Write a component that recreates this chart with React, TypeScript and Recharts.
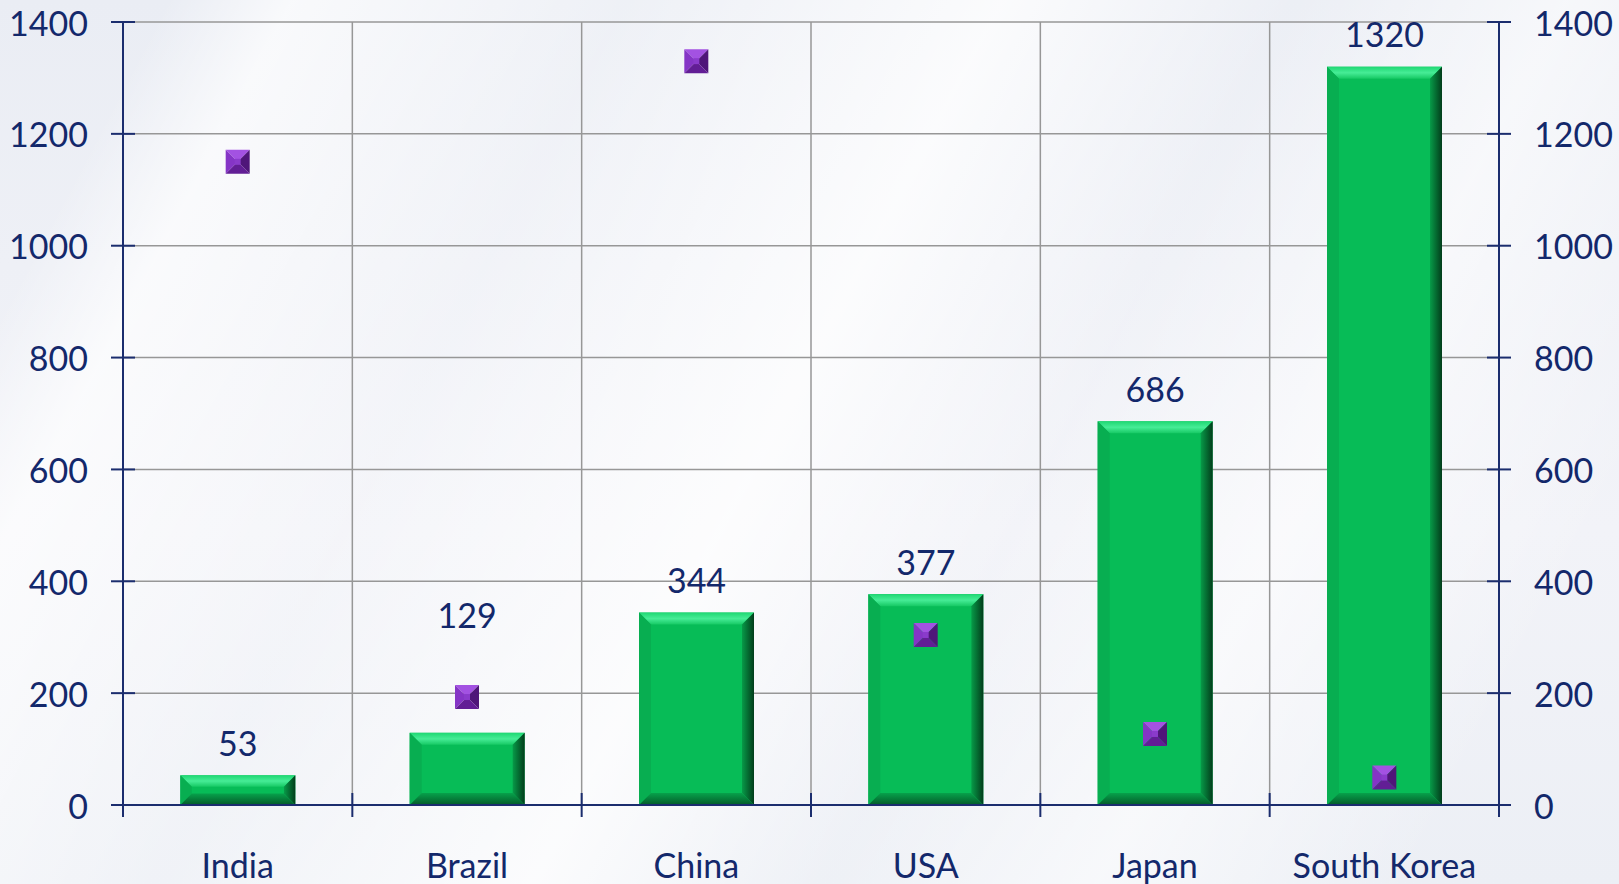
import { ComposedChart, Bar, Scatter, XAxis, YAxis, CartesianGrid, LabelList } from "recharts";

const countries = ["India", "Brazil", "China", "USA", "Japan", "South Korea"];
const barValues = [53, 129, 344, 377, 686, 1320];
const markerValues = [1150, 193, 1330, 304, 127, 49];
const axisTicks = [0, 200, 400, 600, 800, 1000, 1200, 1400];

const data = countries.map((name, i) => ({ name, bar: barValues[i], marker: markerValues[i] }));

const W = 1619;
const H = 884;
const LEFT_W = 123;
const RIGHT_W = 120;
const TOP = 22;
const BOTTOM_H = 79;
const PLOT_W = W - LEFT_W - RIGHT_W;
const BAND = PLOT_W / countries.length;

const INK = "#13286B";
const AXIS = "#1B2D6E";
const GRID = "#979797";
const FONT = "Lato, 'Noto Sans', sans-serif";
const FS = 34;

// the Brazil label was moved up in the original, clear of its marker
const labelLift: Record<string, number> = { Brazil: 85 };

function BevelBar(props: any) {
  const { x, y, width: w, height: h } = props;
  if (!h || h <= 0) return null;
  const b = Math.min(12, h / 2.6);
  return (
    <g>
      <rect x={x} y={y} width={w} height={h} fill="#07BC57" />
      <polygon points={`${x},${y} ${x + w},${y} ${x + w - b},${y + b} ${x + b},${y + b}`} fill="url(#barTop)" />
      <polygon points={`${x},${y} ${x + b},${y + b} ${x + b},${y + h - b} ${x},${y + h}`} fill="#08AE51" />
      <polygon points={`${x + w},${y} ${x + w},${y + h} ${x + w - b},${y + h - b} ${x + w - b},${y + b}`} fill="url(#barRight)" />
      <polygon points={`${x},${y + h} ${x + w},${y + h} ${x + w - b},${y + h - b} ${x + b},${y + h - b}`} fill="url(#barBottom)" />
    </g>
  );
}

function Pyramid(props: any) {
  const { cx, cy } = props;
  const s = 12;
  const L = cx - s, R = cx + s, T = cy - s, B = cy + s;
  return (
    <g>
      <polygon points={`${L},${T} ${R},${T} ${cx},${cy}`} fill="#A352E2" />
      <polygon points={`${L},${T} ${L},${B} ${cx},${cy}`} fill="#8535C6" />
      <polygon points={`${R},${T} ${R},${B} ${cx},${cy}`} fill="#4F1679" />
      <polygon points={`${L},${B} ${R},${B} ${cx},${cy}`} fill="#621E95" />
      <rect x={cx - 3} y={cy - 3} width={6} height={6} fill="#8A3BCB" />
    </g>
  );
}

function BarLabel(props: any) {
  const { x, y, width, value } = props;
  const i = props.index ?? barValues.indexOf(Number(value));
  const lift = labelLift[countries[i]] ?? 0;
  return (
    <text x={x + width / 2} y={y - 33 - lift} textAnchor="middle" dominantBaseline="central" fill={INK} fontSize={FS} fontFamily={FONT}>
      {value}
    </text>
  );
}

function CountryTick(props: any) {
  const { x, y, payload } = props;
  const i = countries.indexOf(payload.value);
  const left = x - BAND / 2;
  return (
    <g>
      <line x1={left} x2={left} y1={y - 12} y2={y + 12} stroke={AXIS} strokeWidth={2} />
      {i === countries.length - 1 && (
        <line x1={x + BAND / 2} x2={x + BAND / 2} y1={y - 12} y2={y + 12} stroke={AXIS} strokeWidth={2} />
      )}
      <text x={x} y={y + 59} textAnchor="middle" dominantBaseline="central" fill={INK} fontSize={FS} fontFamily={FONT}>
        {payload.value}
      </text>
    </g>
  );
}

function LeftTick(props: any) {
  const { x, y, payload } = props;
  return (
    <g>
      <line x1={x - 12} x2={x + 12} y1={y} y2={y} stroke={AXIS} strokeWidth={2} />
      <text x={x - 35} y={y} textAnchor="end" dominantBaseline="central" fill={INK} fontSize={FS} fontFamily={FONT}>
        {payload.value}
      </text>
    </g>
  );
}

function RightTick(props: any) {
  const { x, y, payload } = props;
  return (
    <g>
      <line x1={x - 12} x2={x + 12} y1={y} y2={y} stroke={AXIS} strokeWidth={2} />
      <text x={x + 35} y={y} textAnchor="start" dominantBaseline="central" fill={INK} fontSize={FS} fontFamily={FONT}>
        {payload.value}
      </text>
    </g>
  );
}

export default function App() {
  return (
    <div
      style={{
        position: "absolute",
        left: 0,
        top: 0,
        width: W,
        height: H,
        overflow: "hidden",
        background:
          "linear-gradient(118deg, rgba(255,255,255,0) 0%, rgba(255,255,255,0) 8%, rgba(255,255,255,0.7) 14%, rgba(255,255,255,0.2) 30%, rgba(255,255,255,0.8) 48%, rgba(255,255,255,0.1) 62%, rgba(255,255,255,0.6) 75%, rgba(255,255,255,0) 90%), linear-gradient(180deg, #EAEDF4 0%, #F2F3F8 60%, #ECEFF5 100%)",
      }}
    >
      <ComposedChart width={W} height={H} data={data} margin={{ top: TOP, right: 0, bottom: 0, left: 0 }} barCategoryGap="25%">
        <defs>
          <linearGradient id="barTop" x1="0" y1="0" x2="0" y2="1">
            <stop offset="0%" stopColor="#1FD873" />
            <stop offset="50%" stopColor="#46EC96" />
            <stop offset="100%" stopColor="#16C964" />
          </linearGradient>
          <linearGradient id="barRight" x1="0" y1="0" x2="1" y2="0">
            <stop offset="0%" stopColor="#079A48" />
            <stop offset="100%" stopColor="#023D1B" />
          </linearGradient>
          <linearGradient id="barBottom" x1="0" y1="0" x2="0" y2="1">
            <stop offset="0%" stopColor="#07A14B" />
            <stop offset="100%" stopColor="#045A29" />
          </linearGradient>
        </defs>
        <CartesianGrid
          yAxisId="left"
          stroke={GRID}
          strokeWidth={1.5}
          verticalCoordinatesGenerator={({ offset }: any) =>
            countries.slice(1).map((_, i) => offset.left + ((i + 1) * offset.width) / countries.length)
          }
        />
        <XAxis
          dataKey="name"
          height={BOTTOM_H}
          axisLine={{ stroke: AXIS, strokeWidth: 2 }}
          tickLine={false}
          tickSize={0}
          tickMargin={0}
          interval={0}
          tick={<CountryTick />}
        />
        <YAxis
          yAxisId="left"
          orientation="left"
          width={LEFT_W}
          domain={[0, 1400]}
          ticks={axisTicks}
          interval={0}
          axisLine={{ stroke: AXIS, strokeWidth: 2 }}
          tickLine={false}
          tickSize={0}
          tickMargin={0}
          tick={<LeftTick />}
        />
        <YAxis
          yAxisId="right"
          orientation="right"
          width={RIGHT_W}
          domain={[0, 1400]}
          ticks={axisTicks}
          interval={0}
          axisLine={{ stroke: AXIS, strokeWidth: 2 }}
          tickLine={false}
          tickSize={0}
          tickMargin={0}
          tick={<RightTick />}
        />
        <Bar yAxisId="left" dataKey="bar" shape={<BevelBar />} isAnimationActive={false}>
          <LabelList dataKey="bar" content={<BarLabel />} />
        </Bar>
        <Scatter yAxisId="right" dataKey="marker" shape={<Pyramid />} isAnimationActive={false} />
      </ComposedChart>
    </div>
  );
}
